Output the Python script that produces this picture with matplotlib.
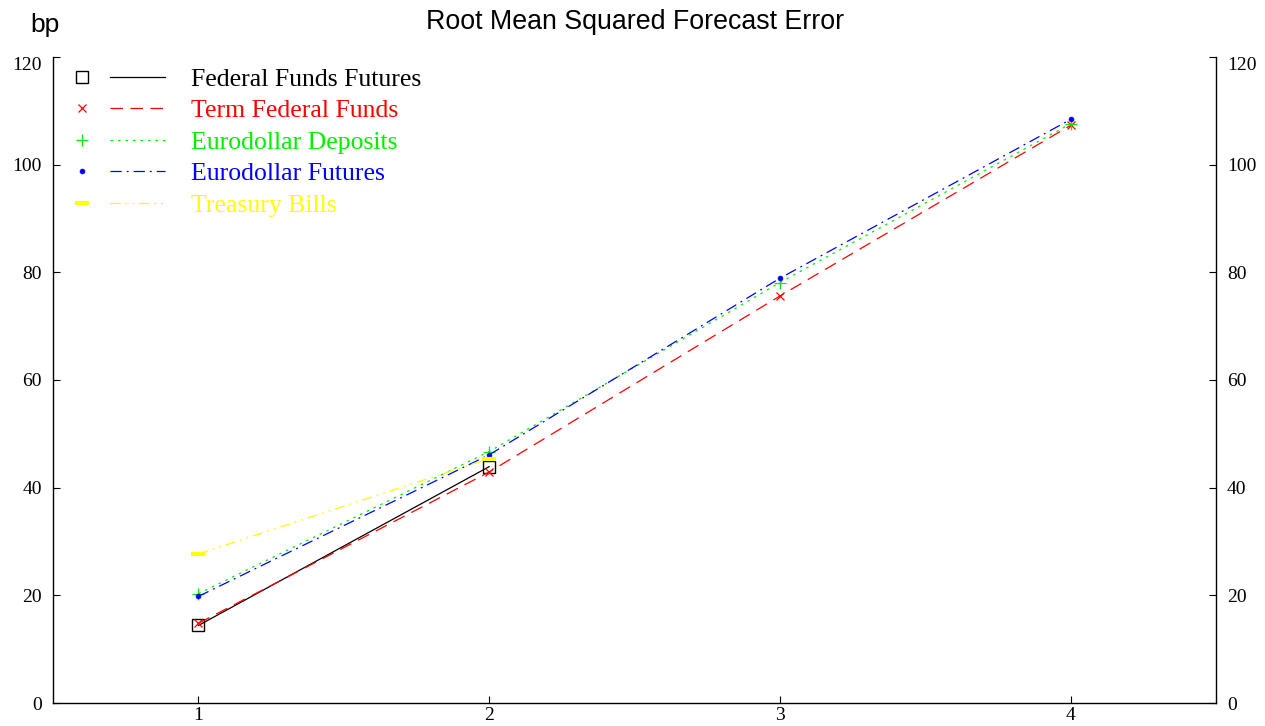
import matplotlib
matplotlib.use("Agg")
import matplotlib.pyplot as plt
from matplotlib.lines import Line2D
from matplotlib.legend_handler import HandlerTuple

horizons = [1, 2, 3, 4]
ff_futures = [14.4, 43.9]
term_ff = [14.8, 42.9, 75.6, 107.3]
ed_deposits = [20.3, 46.7, 78.1, 107.6]
ed_futures = [19.8, 46.1, 78.9, 108.4]
tbills = [27.7, 45.4]

series_names = ["Federal Funds Futures", "Term Federal Funds", "Eurodollar Deposits",
                "Eurodollar Futures", "Treasury Bills"]
y_ticks = [0, 20, 40, 60, 80, 100, 120]

fig = plt.figure(figsize=(12.65, 7.26), dpi=100)
ax = fig.add_axes([53/1265, 1-703/726, (1216-53)/1265, (703-57)/726])

styles = [
    dict(color="black", ls="-", marker="s", mfc="none", ms=9, mew=1.0),
    dict(color="red", ls=(0, (10, 6)), marker="x", ms=6, mew=0.9),
    dict(color="#00ee00", ls=(0, (2, 4)), marker="+", ms=8, mew=0.9),
    dict(color="blue", ls=(0, (9, 4, 1.5, 4)), marker="o", ms=3.5, mew=0.5),
    dict(color="yellow", ls=(0, (8, 4, 1.5, 4, 1.5, 4)), marker="_", ms=10, mew=3),
]
data = [ff_futures, term_ff, ed_deposits, ed_futures, tbills]

handles = []
for vals, st, name in zip(data, styles, series_names):
    x = horizons[:len(vals)]
    ax.plot(x, vals, color=st["color"], ls=st["ls"], lw=0.9)
    ax.plot(x, vals, color=st["color"], ls="none", marker=st["marker"],
            ms=st["ms"], mew=st["mew"], mfc=st.get("mfc", st["color"]), mec=st["color"])
    hm = Line2D([], [], color=st["color"], ls="none", marker=st["marker"],
                ms=st["ms"], mew=st["mew"], mfc=st.get("mfc", st["color"]), mec=st["color"])
    hl = Line2D([], [], color=st["color"], ls=st["ls"], lw=0.9)
    handles.append((hm, hl))

ax.set_xlim(0.5, 4.5)
ax.set_ylim(0, 120)
ax.set_xticks(horizons)
ax.set_yticks(y_ticks)
ax.spines["top"].set_visible(False)
for s in ["left", "right", "bottom"]:
    ax.spines[s].set_linewidth(1.0)
ax.tick_params(axis="both", direction="in", length=5, labelsize=14)
ax.tick_params(axis="y", left=True, right=True, labelleft=True, labelright=True, pad=8)
ax.tick_params(axis="x", top=False, pad=3)
for t in ax.yaxis.get_major_ticks() + ax.xaxis.get_major_ticks():
    t.label1.set_fontfamily("Liberation Serif")
    t.label2.set_fontfamily("Liberation Serif")
top_tick = ax.yaxis.get_major_ticks()[-1]
top_tick.label1.set_verticalalignment("top")
top_tick.label2.set_verticalalignment("top")

leg = ax.legend(handles, series_names, handler_map={tuple: HandlerTuple(ndivide=None, pad=0)},
                loc="upper left", bbox_to_anchor=(2/1163, 1 - 11/646), frameon=False,
                prop={"family": "Liberation Serif", "size": 18.5},
                handlelength=4.28, handletextpad=1.0, labelspacing=0.33,
                borderpad=0, borderaxespad=0)
for txt, st in zip(leg.get_texts(), styles):
    txt.set_color(st["color"])

fig.text(635/1265, 1-22/726, "Root Mean Squared Forecast Error", ha="center", va="center",
         fontsize=19.3, family="Liberation Sans")
fig.text(45/1265, 1-25/726, "bp", ha="center", va="center", fontsize=19, family="Liberation Sans")

fig.savefig("out.png", dpi=100)
